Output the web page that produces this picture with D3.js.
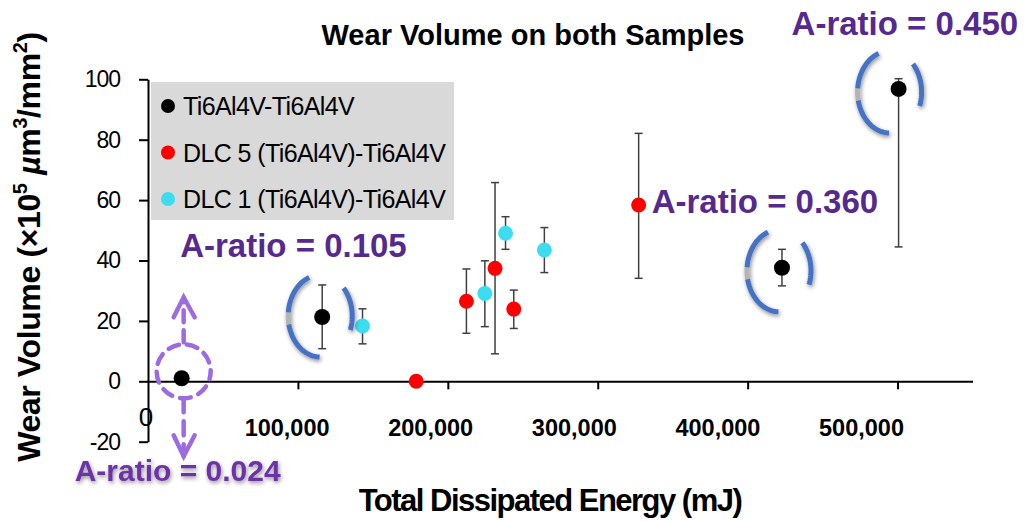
<!DOCTYPE html>
<html>
<head>
<meta charset="utf-8">
<script src="https://cdn.jsdelivr.net/npm/d3@7"></script>
<style>
  body { margin: 0; background: #fff; }
  svg { display: block; font-family: "Liberation Sans", Arial, sans-serif; }
</style>
</head>
<body>
<svg width="1025" height="521"></svg>
<script>
// ---- data ----
const seriesNames = ["Ti6Al4V-Ti6Al4V", "DLC 5 (Ti6Al4V)-Ti6Al4V", "DLC 1 (Ti6Al4V)-Ti6Al4V"];
const seriesColors = ["#000000", "#ff0000", "#3ddcf0"];

const energyTi = [22450, 116200, 422900, 500700];
const wearTi = [1.0, 21.3, 37.6, 96.8];
const lowTi = [null, 10.8, 31.6, 44.5];
const highTi = [null, 31.9, 43.7, 100.2];

const energyDlc5 = [178900, 212400, 231500, 244000, 327300];
const wearDlc5 = [0, 26.5, 37.4, 23.9, 58.4];
const lowDlc5 = [null, 15.9, 9.1, 17.5, 34.1];
const highDlc5 = [null, 37.2, 65.8, 30.2, 82.1];

const energyDlc1 = [143100, 224700, 238500, 264400];
const wearDlc1 = [18.3, 29.1, 49.0, 43.5];
const lowDlc1 = [12.4, 18.1, 43.7, 36.0];
const highDlc1 = [24.0, 39.9, 54.5, 50.9];

const xTicks = [100000, 200000, 300000, 400000, 500000];
const yTicks = [-20, 0, 20, 40, 60, 80, 100];

const ratioLabels = ["A-ratio = 0.024", "A-ratio = 0.105", "A-ratio = 0.360", "A-ratio = 0.450"];

const series = [
  { xs: energyTi, ys: wearTi, lo: lowTi, hi: highTi },
  { xs: energyDlc5, ys: wearDlc5, lo: lowDlc5, hi: highDlc5 },
  { xs: energyDlc1, ys: wearDlc1, lo: lowDlc1, hi: highDlc1 }
].map((s, i) => ({
  name: seriesNames[i],
  color: seriesColors[i],
  r: i == 0 ? 8 : 7.5,
  pts: s.xs.map((x, j) => ({ x: x, y: s.ys[j], lo: s.lo[j], hi: s.hi[j] }))
}));

// ---- layout ----
const svg = d3.select("svg");
const x = d3.scaleLinear().domain([0, 550000]).range([148, 972.5]);
const y = d3.scaleLinear().domain([-20, 100]).range([441.7, 79.3]);
// the tick labels in the original sit on a slightly tighter spacing than the ticks
const xLabel = d3.scaleLinear().domain([0, 500000]).range([143, 861]);
const blue = "#4472c4";
const purple = "#56298f";
const lilac = "#9c6be0";

const defs = svg.append("defs");
const sh = defs.append("filter").attr("id", "shadow")
  .attr("x", "-50%").attr("y", "-50%").attr("width", "200%").attr("height", "200%");
sh.append("feDropShadow").attr("dx", 1).attr("dy", 2).attr("stdDeviation", 2.2)
  .attr("flood-color", "#000").attr("flood-opacity", 0.45);

// axes
const xAxis = svg.append("g")
  .attr("transform", `translate(0,${y(0)})`)
  .call(d3.axisBottom(x).tickValues(xTicks).tickSize(8).tickSizeOuter(0).tickFormat(d3.format(",")));
xAxis.attr("font-family", null).attr("font-size", null);
xAxis.select(".domain").attr("stroke-width", 2);
xAxis.selectAll(".tick line").attr("stroke-width", 2);
xAxis.selectAll(".tick text").attr("y", 38).attr("font-size", 23.5).attr("font-weight", "bold")
  .attr("x", d => xLabel(d) - x(d));

const yAxis = svg.append("g")
  .attr("transform", `translate(${x(0)},0)`)
  .call(d3.axisLeft(y).tickValues(yTicks).tickSize(9).tickPadding(19).tickSizeOuter(0)
    .tickFormat(d => String(d)));
yAxis.attr("font-family", null).attr("font-size", null);
yAxis.select(".domain").attr("stroke-width", 2);
yAxis.selectAll(".tick line").attr("stroke-width", 2);
yAxis.selectAll(".tick text").attr("font-size", 23).attr("letter-spacing", -1);

// the lone "0" under the origin
svg.append("text").attr("x", xLabel(0) + 3).attr("y", y(0) + 45)
  .attr("text-anchor", "middle").attr("font-size", 26).text("0");

// titles, tracked tighter to the widths of the original
function track(sel, target) {
  const w = sel.node().getComputedTextLength();
  const n = sel.node().textContent.length;
  sel.attr("letter-spacing", (target - w) / (n - 1));
}
const title = svg.append("text").attr("x", 533).attr("y", 45).attr("text-anchor", "middle")
  .attr("font-size", 29).attr("font-weight", "bold").text("Wear Volume on both Samples");
track(title, 423);

const xTitle = svg.append("text").attr("x", 550).attr("y", 511).attr("text-anchor", "middle")
  .attr("font-size", 31).attr("font-weight", "bold").text("Total Dissipated Energy (mJ)");
track(xTitle, 384);

const yTitle = svg.append("text").attr("text-anchor", "middle")
  .attr("transform", "translate(40,247) rotate(-90)")
  .attr("font-size", 32).attr("font-weight", "bold");
yTitle.append("tspan").text("Wear Volume (\u00d710");
yTitle.append("tspan").attr("font-size", 20).attr("dy", -13).text("5");
yTitle.append("tspan").attr("dy", 13).text(" ");
yTitle.append("tspan").attr("font-style", "italic").text("\u00b5");
yTitle.append("tspan").text("m");
yTitle.append("tspan").attr("font-size", 20).attr("dy", -13).text("3");
yTitle.append("tspan").attr("dy", 13).text("/mm");
yTitle.append("tspan").attr("font-size", 20).attr("dy", -13).text("2");
yTitle.append("tspan").attr("dy", 13).text(")");
track(yTitle, 430);

// legend
const legend = svg.append("g").attr("transform", "translate(151,82)");
legend.append("rect").attr("width", 303).attr("height", 138).attr("fill", "#d9d9d9");
series.forEach((s, i) => {
  const row = legend.append("g").attr("transform", `translate(17,${24 + i * 46.5})`);
  row.append("circle").attr("r", 7).attr("fill", s.color);
  row.append("text").attr("x", 15).attr("dy", "0.36em").attr("font-size", 25)
    .attr("letter-spacing", -0.6).text(s.name);
});

// dashed lilac ring with arrows round the first point
const ti = series[0].pts;
{
  const cx = x(ti[0].x) + 2, cy = y(ti[0].y) - 7, r = 27;
  const g = svg.append("g").attr("fill", "none").attr("stroke", lilac)
    .attr("stroke-width", 4.5).attr("stroke-linecap", "round");
  g.append("circle").attr("cx", cx).attr("cy", cy).attr("r", r)
    .attr("stroke-dasharray", "11 8").attr("stroke-dashoffset", 3);
  g.append("line").attr("x1", cx).attr("x2", cx).attr("y1", cy - r - 2).attr("y2", cy - r - 46)
    .attr("stroke-dasharray", "12 8");
  g.append("path").attr("d", `M${cx - 10},${cy - r - 27}L${cx},${cy - r - 47}L${cx + 11},${cy - r - 27}`);
  g.append("line").attr("x1", cx).attr("x2", cx).attr("y1", cy + r).attr("y2", cy + r + 58)
    .attr("stroke-dasharray", "14 9");
  g.append("path").attr("d", `M${cx - 10},${cy + r + 37}L${cx},${cy + r + 58}L${cx + 11},${cy + r + 37}`);
}

// error bars then dots
const plot = svg.append("g");
series.forEach(s => {
  const eb = plot.append("g").attr("stroke", "#404040").attr("stroke-width", 1.5);
  s.pts.filter(p => p.lo != null).forEach(p => {
    eb.append("line").attr("x1", x(p.x)).attr("x2", x(p.x)).attr("y1", y(p.lo)).attr("y2", y(p.hi));
    eb.append("line").attr("x1", x(p.x) - 4).attr("x2", x(p.x) + 4).attr("y1", y(p.lo)).attr("y2", y(p.lo));
    eb.append("line").attr("x1", x(p.x) - 4).attr("x2", x(p.x) + 4).attr("y1", y(p.hi)).attr("y2", y(p.hi));
  });
});
series.forEach(s => {
  plot.selectAll(null).data(s.pts).enter().append("circle")
    .attr("cx", d => x(d.x)).attr("cy", d => y(d.y)).attr("r", s.r).attr("fill", s.color);
});

// blue bracket rings round three of the Ti6Al4V points
const rings = [
  { p: ti[1], dx: -2, dy: -1 },
  { p: ti[2], dx: -3, dy: 3 },
  { p: ti[3], dx: -9, dy: 3 }
];
function ellArc(cx, cy, rx, ry, a0, a1) {
  const n = 30, pts = [];
  for (let k = 0; k <= n; k++) {
    const a = (a0 + (a1 - a0) * k / n) * Math.PI / 180;
    pts.push([cx + rx * Math.cos(a), cy + ry * Math.sin(a)]);
  }
  return d3.line()(pts);
}
rings.forEach(rg => {
  const cx = x(rg.p.x) + rg.dx, cy = y(rg.p.y) + rg.dy;
  const g = plot.append("g").attr("fill", "none").attr("stroke-width", 5).attr("filter", "url(#shadow)");
  g.append("path").attr("d", ellArc(cx, cy, 32, 41, 168, 185)).attr("stroke", "#b4b4b4");
  g.append("path").attr("d", ellArc(cx, cy, 32, 41, 91, 168)).attr("stroke", blue);
  g.append("path").attr("d", ellArc(cx, cy, 32, 41, 185, 250)).attr("stroke", blue);
  g.append("path").attr("d", ellArc(cx, cy, 32, 41, -43, 20)).attr("stroke", blue);
});

// A-ratio labels
const labels = [
  { p: ti[0], dx: -107, dy: 103, size: 30, color: "#6c33a6", shadow: true },
  { p: ti[1], dx: -142, dy: -60, size: 33, color: purple },
  { p: series[1].pts[4], dx: 13, dy: 8, size: 33, color: purple },
  { p: ti[3], dx: -107, dy: -54, size: 33, color: purple }
];
labels.forEach((l, i) => {
  svg.append("text").attr("x", x(l.p.x) + l.dx).attr("y", y(l.p.y) + l.dy)
    .attr("font-size", l.size).attr("font-weight", "bold").attr("fill", l.color)
    .attr("filter", l.shadow ? "url(#shadow)" : null)
    .text(ratioLabels[i]);
});
</script>
</body>
</html>
